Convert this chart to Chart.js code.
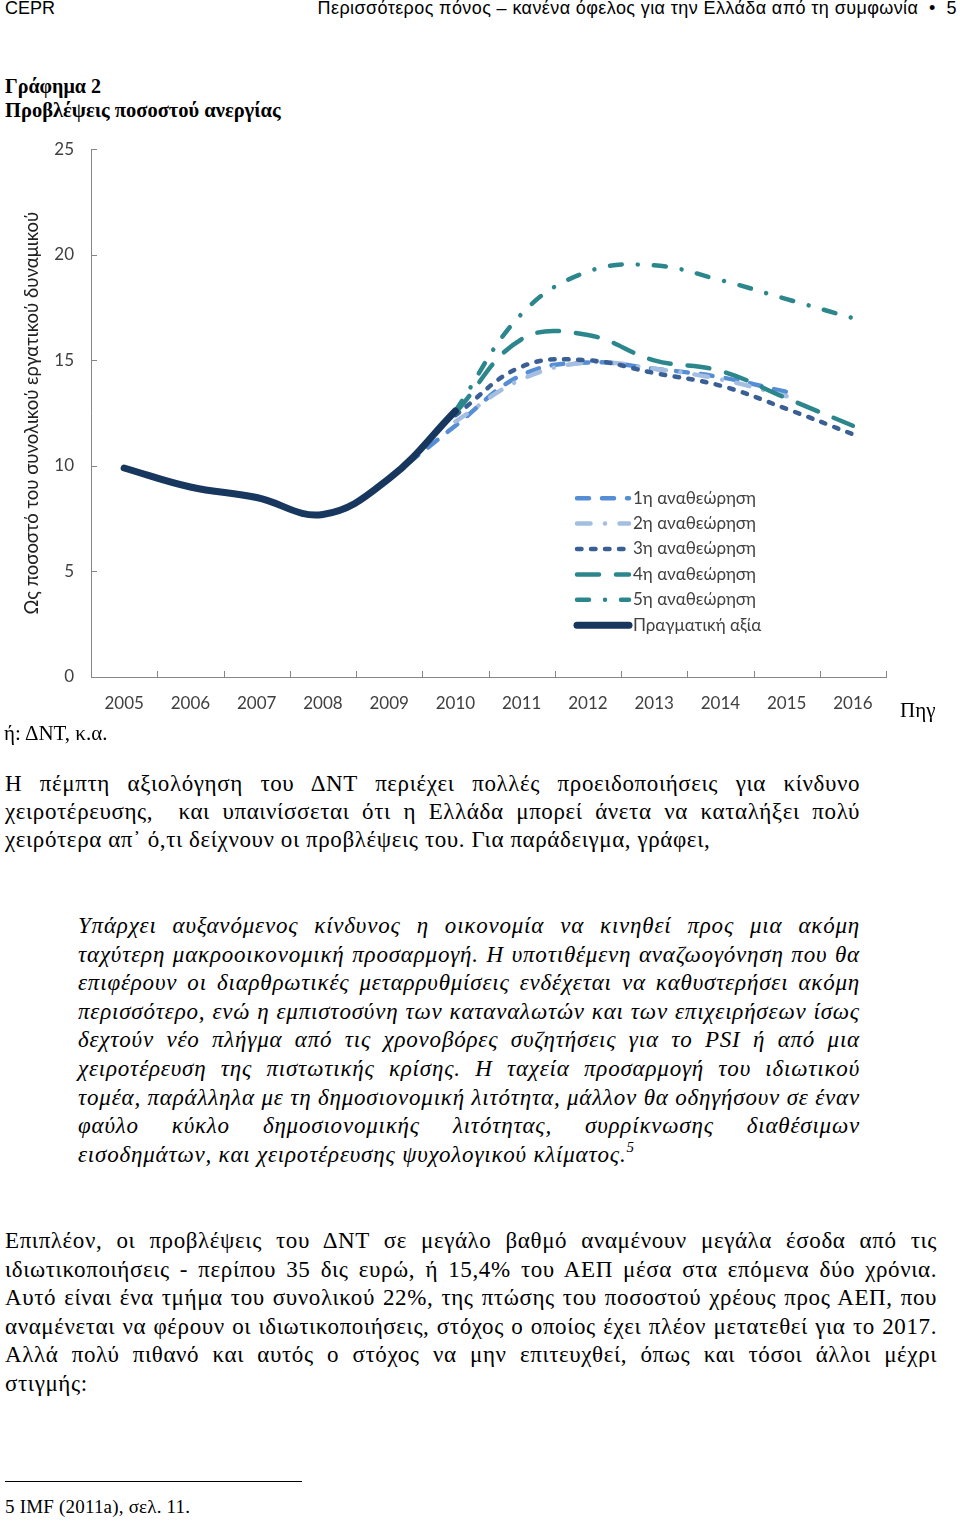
<!DOCTYPE html>
<html lang="el">
<head>
<meta charset="utf-8">
<title>Γράφημα 2 - Προβλέψεις ποσοστού ανεργίας</title>
<script src="https://cdn.jsdelivr.net/npm/chart.js@4.4.1/dist/chart.umd.min.js"></script>
<style>
	html, body { margin: 0; padding: 0; background: #fff; }
	body { width: 960px; height: 1522px; position: relative; overflow: hidden; }
	.t { position: absolute; white-space: nowrap; color: #000; line-height: 28px; }
	.serif { font-family: "Liberation Serif", "Times New Roman", serif; font-size: 23px; letter-spacing: 0.6px; }
	.sans { font-family: "Liberation Sans", Arial, sans-serif; font-size: 18px; }
	.j { text-align: justify; text-align-last: justify; }
	.it { font-style: italic; letter-spacing: 0.8px; }
	#chartBox { position: absolute; left: 0; top: 122px; width: 960px; height: 600px; }
</style>
</head>
<body>

<div class="t sans" style="left:5px;top:-6px;">CEPR</div>
<div class="t sans" style="right:3px;top:-6px;letter-spacing:0.4px;">Περισσότερος πόνος – κανένα όφελος για την Ελλάδα από τη συμφωνία &nbsp;•&nbsp; 5</div>

<div class="t serif" style="left:5px;top:72px;font-weight:bold;font-size:20px;letter-spacing:0;">Γράφημα 2</div>
<div class="t serif" style="left:5px;top:96px;font-weight:bold;font-size:20.5px;letter-spacing:0;">Προβλέψεις ποσοστού ανεργίας</div>

<div id="chartBox"><canvas id="unemploymentChart" width="960" height="600"></canvas></div>

<div class="t serif" style="left:900px;top:696px;font-size:21px;letter-spacing:0;">Πηγ</div>
<div class="t serif" style="left:4px;top:719px;font-size:21px;letter-spacing:0;">ή: ΔΝΤ, κ.α.</div>

<!-- paragraph 1 -->
<div class="t serif j" style="left:5px;top:770px;width:855px;">Η πέμπτη αξιολόγηση του ΔΝΤ περιέχει πολλές προειδοποιήσεις για κίνδυνο</div>
<div class="t serif j" style="left:5px;top:798px;width:855px;">χειροτέρευσης,&nbsp; και υπαινίσσεται ότι η Ελλάδα μπορεί άνετα να καταλήξει πολύ</div>
<div class="t serif" style="left:5px;top:826px;">χειρότερα απ᾽ ό,τι δείχνουν οι προβλέψεις του. Για παράδειγμα, γράφει,</div>

<!-- quote -->
<div class="t serif it j" style="left:78px;top:912px;width:782px;">Υπάρχει αυξανόμενος κίνδυνος η οικονομία να κινηθεί προς μια ακόμη</div>
<div class="t serif it j" style="left:78px;top:941px;width:782px;">ταχύτερη μακροοικονομική προσαρμογή. Η υποτιθέμενη αναζωογόνηση που θα</div>
<div class="t serif it j" style="left:78px;top:969px;width:782px;">επιφέρουν οι διαρθρωτικές μεταρρυθμίσεις ενδέχεται να καθυστερήσει ακόμη</div>
<div class="t serif it j" style="left:78px;top:998px;width:782px;">περισσότερο, ενώ η εμπιστοσύνη των καταναλωτών και των επιχειρήσεων ίσως</div>
<div class="t serif it j" style="left:78px;top:1026px;width:782px;">δεχτούν νέο πλήγμα από τις χρονοβόρες συζητήσεις για το PSI ή από μια</div>
<div class="t serif it j" style="left:78px;top:1055px;width:782px;">χειροτέρευση της πιστωτικής κρίσης. Η ταχεία προσαρμογή του ιδιωτικού</div>
<div class="t serif it j" style="left:78px;top:1084px;width:782px;">τομέα, παράλληλα με τη δημοσιονομική λιτότητα, μάλλον θα οδηγήσουν σε έναν</div>
<div class="t serif it j" style="left:78px;top:1112px;width:782px;">φαύλο κύκλο δημοσιονομικής λιτότητας, συρρίκνωσης διαθέσιμων</div>
<div class="t serif it" style="left:78px;top:1141px;">εισοδημάτων, και χειροτέρευσης ψυχολογικού κλίματος.<sup style="font-size:15px;vertical-align:10px;line-height:0;">5</sup></div>

<!-- paragraph 2 -->
<div class="t serif j" style="left:5px;top:1227px;width:932px;">Επιπλέον, οι προβλέψεις του ΔΝΤ σε μεγάλο βαθμό αναμένουν μεγάλα έσοδα από τις</div>
<div class="t serif j" style="left:5px;top:1256px;width:932px;">ιδιωτικοποιήσεις - περίπου 35 δις ευρώ, ή 15,4% του ΑΕΠ μέσα στα επόμενα δύο χρόνια.</div>
<div class="t serif j" style="left:5px;top:1284px;width:932px;">Αυτό είναι ένα τμήμα του συνολικού 22%, της πτώσης του ποσοστού χρέους προς ΑΕΠ, που</div>
<div class="t serif j" style="left:5px;top:1313px;width:932px;">αναμένεται να φέρουν οι ιδιωτικοποιήσεις, στόχος ο οποίος έχει πλέον μετατεθεί για το 2017.</div>
<div class="t serif j" style="left:5px;top:1341px;width:932px;">Αλλά πολύ πιθανό και αυτός ο στόχος να μην επιτευχθεί, όπως και τόσοι άλλοι μέχρι</div>
<div class="t serif" style="left:5px;top:1370px;">στιγμής:</div>

<!-- footnote -->
<div style="position:absolute;left:5px;top:1481px;width:297px;height:1px;background:#000;"></div>
<div class="t serif" style="left:5px;top:1493px;font-size:19px;letter-spacing:0.2px;">5 IMF (2011a), σελ. 11.</div>

<script>
// values (annual, % of labour force)
const years = ["2005", "2006", "2007", "2008", "2009", "2010", "2011", "2012", "2013", "2014", "2015", "2016"];
const actual  = [9.9, 9.0, 8.5, 7.7, 9.4, 12.6, null, null, null, null, null, null];
const review1 = [null, null, null, null, 9.4, 11.9, 14.3, 14.9, 14.6, 14.2, 13.5, null];
const review2 = [null, null, null, null, null, 12.1, 14.1, 14.9, 14.6, 14.1, 13.3, null];
const review3 = [null, null, null, null, null, 12.4, 14.7, 15.0, 14.4, 13.8, 12.7, 11.5];
const review4 = [null, null, null, null, null, 12.5, 16.0, 16.2, 15.0, 14.5, 13.2, 11.9];
const review5 = [null, null, null, null, null, 12.6, 17.2, 19.2, 19.5, 18.8, 17.9, 17.0];
const seriesNames = ["1η αναθεώρηση", "2η αναθεώρηση", "3η αναθεώρηση", "4η αναθεώρηση", "5η αναθεώρηση", "Πραγματική αξία"];
const yTicks = [0, 5, 10, 15, 20, 25];

const chartFont = "Lato, 'Open Sans', sans-serif";
const axisColor = "#868686";

// justified lines must not overflow their box
document.querySelectorAll(".j").forEach((el) => {
	let ls = parseFloat(getComputedStyle(el).letterSpacing) || 0;
	while (el.scrollWidth > el.clientWidth + 1 && ls > -0.5) {
		ls -= 0.1;
		el.style.letterSpacing = ls + "px";
	}
});

function makeLine(label, data, color, width, dash, order) {
	return {
		label: label,
		data: data,
		borderColor: color,
		backgroundColor: color,
		borderWidth: width,
		borderDash: dash,
		borderCapStyle: "round",
		borderJoinStyle: "round",
		pointRadius: 0,
		tension: 0.4,
		fill: false,
		order: order,
	};
}

// tick marks point inwards like the original (Excel style)
const insideTicks = {
	id: "insideTicks",
	afterDraw(chart) {
		const { ctx, chartArea, scales } = chart;
		ctx.save();
		ctx.strokeStyle = axisColor;
		ctx.lineWidth = 1;
		ctx.beginPath();
		yTicks.forEach((v) => {
			const py = Math.round(scales.y.getPixelForValue(v)) + 0.5;
			ctx.moveTo(chartArea.left, py);
			ctx.lineTo(chartArea.left + 6, py);
		});
		for (let i = 0; i <= years.length; i++) {
			const px = Math.round(scales.x.getPixelForValue(i - 0.5)) + 0.5;
			ctx.moveTo(px, chartArea.bottom);
			ctx.lineTo(px, chartArea.bottom - 6);
		}
		ctx.stroke();
		ctx.restore();
	}
};

// legend sits inside the plot, lower right
const innerLegend = {
	id: "innerLegend",
	afterDatasetsDraw(chart) {
		const { ctx, chartArea } = chart;
		const x0 = chartArea.left + 484;
		const y0 = chartArea.top + 349;
		const rowH = 25.4;
		ctx.save();
		chart.data.datasets.forEach((ds, i) => {
			const y = y0 + i * rowH;
			ctx.strokeStyle = ds.borderColor;
			ctx.lineWidth = ds.borderWidth;
			ctx.lineCap = ds.borderCapStyle;
			ctx.setLineDash(ds.borderDash || []);
			ctx.beginPath();
			ctx.moveTo(x0 + 2, y);
			ctx.lineTo(x0 + 54, y);
			ctx.stroke();
			ctx.setLineDash([]);
			ctx.fillStyle = "#404040";
			ctx.font = "17px " + chartFont;
			ctx.textBaseline = "middle";
			ctx.textAlign = "left";
			ctx.fillText(ds.label, x0 + 58, y);
		});
		ctx.restore();
	}
};

const canvas = document.getElementById("unemploymentChart");
new Chart(canvas.getContext("2d"), {
	type: "line",
	data: {
		labels: years,
		datasets: [
			makeLine(seriesNames[0], review1, "#558ED5", 4.5, [12, 13], 6),
			makeLine(seriesNames[1], review2, "#A3BEE0", 4.5, [13.5, 14.5, 0.01, 14.5], 5),
			makeLine(seriesNames[2], review3, "#3A5F94", 4.5, [4.5, 9.5], 4),
			makeLine(seriesNames[3], review4, "#2C878D", 4.5, [22, 17], 3),
			makeLine(seriesNames[4], review5, "#2C878D", 4.5, [12, 16, 0.01, 16], 2),
			makeLine(seriesNames[5], actual, "#17375E", 7, [], 1),
		],
	},
	options: {
		responsive: false,
		animation: false,
		layout: { padding: { top: 11, right: 74, left: 0, bottom: 0 } },
		plugins: {
			legend: { display: false },
			tooltip: { enabled: false },
		},
		scales: {
			x: {
				type: "category",
				offset: true,
				grid: { display: false, drawTicks: false },
				border: { display: true, color: axisColor, width: 1 },
				ticks: {
					color: "#404040",
					font: { family: chartFont, size: 17 },
					padding: 16,
					maxRotation: 0,
					autoSkip: false,
				},
				afterFit(scale) { scale.height = 45; },
			},
			y: {
				min: 0,
				max: 25,
				grid: { display: false, drawTicks: false },
				border: { display: true, color: axisColor, width: 1 },
				ticks: {
					color: "#404040",
					font: { family: chartFont, size: 17 },
					padding: 17,
				},
				afterBuildTicks(scale) { scale.ticks = yTicks.map((v) => ({ value: v })); },
				title: {
					display: true,
					text: "Ως ποσοστό του συνολικού εργατικού δυναμικού",
					color: "#202020",
					font: { family: chartFont, size: 18.5 },
					padding: { top: 21, bottom: 0 },
				},
				afterFit(scale) { scale.width = 91; },
			},
		},
	},
	plugins: [insideTicks, innerLegend],
});
</script>
</body>
</html>
